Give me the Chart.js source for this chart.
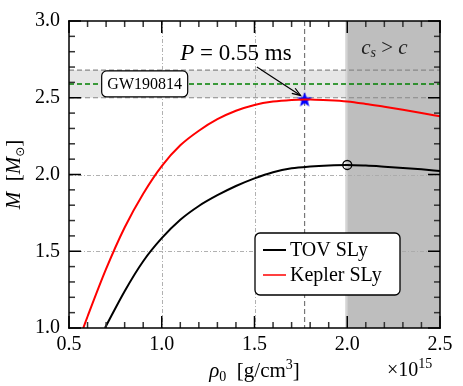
<!DOCTYPE html>
<html>
<head>
<meta charset="utf-8">
<script src="https://cdn.jsdelivr.net/npm/chart.js@4/dist/chart.umd.min.js"></script>
<style>
html,body{margin:0;padding:0;background:#fff;}
canvas{display:block;}
</style>
</head>
<body>
<canvas id="c" width="463" height="386"></canvas>
<script>
// ---- data (rho0 in 1e15 g/cm^3, M in solar masses) ----
const tovRho    = [0.694,0.8,0.9,1.0,1.1,1.2,1.3,1.4,1.5,1.6,1.7,1.8,1.9,2.0,2.1,2.2,2.3,2.4,2.5];
const tovMass   = [1.0,1.24,1.435,1.585,1.705,1.795,1.865,1.925,1.975,2.015,2.04,2.052,2.059,2.062,2.058,2.051,2.043,2.034,2.023];
const keplerRho = [0.577,0.6,0.7,0.8,0.9,1.0,1.1,1.2,1.3,1.4,1.5,1.6,1.7,1.77,1.8,1.9,2.0,2.1,2.2,2.3,2.4,2.5];
const keplerMass= [1.0,1.075,1.385,1.655,1.875,2.055,2.19,2.285,2.36,2.415,2.453,2.475,2.486,2.489,2.488,2.484,2.476,2.46,2.441,2.422,2.401,2.379];
const starPoint = {x:1.77, y:2.489};     // P = 0.55 ms
const tovMaxPoint = {x:2.0, y:2.062};    // TOV maximum
const gwBand = [2.50, 2.68];             // GW190814 secondary mass range
const gwCentral = 2.59;
const causalLimit = 2.0;                 // c_s > c beyond this density
const xTicks = [0.5,1.0,1.5,2.0,2.5];
const yTicks = [1.0,1.5,2.0,2.5,3.0];
const xMinorTicks = [0.6,0.7,0.8,0.9,1.1,1.2,1.3,1.4,1.6,1.7,1.8,1.9,2.1,2.2,2.3,2.4];
const yMinorTicks = [1.1,1.2,1.3,1.4,1.6,1.7,1.8,1.9,2.1,2.2,2.3,2.4,2.6,2.7,2.8,2.9];
const seriesLabels = ['TOV SLy','Kepler SLy'];
const seriesColors = ['#000000','#ff0000'];

const SERIF = '"Liberation Serif","DejaVu Serif",serif';

function makeStar(r, color){
  const c = document.createElement('canvas');
  const s = Math.ceil(r*2+2);
  c.width = s; c.height = s;
  const g = c.getContext('2d');
  g.beginPath();
  for(let i=0;i<10;i++){
    const rad = i%2===0 ? r : r*0.42;
    const a = -Math.PI/2 + i*Math.PI/5;
    const px = s/2 + rad*Math.cos(a), py = s/2 + rad*Math.sin(a) + 0.5;
    if(i===0) g.moveTo(px,py); else g.lineTo(px,py);
  }
  g.closePath();
  g.fillStyle = color; g.fill();
  return c;
}

const toPts = (xs, ys) => xs.map((x,i)=>({x:x, y:ys[i]}));

function roundRect(ctx, x, y, w, h, r){
  ctx.beginPath();
  ctx.moveTo(x+r,y); ctx.lineTo(x+w-r,y); ctx.arcTo(x+w,y,x+w,y+r,r);
  ctx.lineTo(x+w,y+h-r); ctx.arcTo(x+w,y+h,x+w-r,y+h,r);
  ctx.lineTo(x+r,y+h); ctx.arcTo(x,y+h,x,y+h-r,r);
  ctx.lineTo(x,y+r); ctx.arcTo(x,y,x+r,y,r);
  ctx.closePath();
}

// draw a sequence of [text, font, dy] pieces centred on (cx, cy)
function drawRich(ctx, pieces, cx, cy){
  let w = 0;
  pieces.forEach(p=>{ ctx.font = p[1]; w += ctx.measureText(p[0]).width; });
  let x0 = cx - w/2;
  ctx.textAlign = 'left';
  pieces.forEach(p=>{ ctx.font = p[1]; ctx.fillText(p[0], x0, cy + (p[2]||0)); x0 += ctx.measureText(p[0]).width; });
}

// inward ticks and frame drawn as filled rectangles
function drawTicks(chart){
  const ctx = chart.ctx, a = chart.chartArea;
  const sx = chart.scales.x, sy = chart.scales.y;
  ctx.save();
  const W = 1.5;
  const vt = (vals, L, col) => {
    ctx.fillStyle = col;
    vals.forEach(v=>{
      const px = sx.getPixelForValue(v);
      ctx.fillRect(px - W/2, a.bottom - L, W, L);
      ctx.fillRect(px - W/2, a.top, W, L);
    });
  };
  const ht = (vals, L, col) => {
    ctx.fillStyle = col;
    vals.forEach(v=>{
      const py = sy.getPixelForValue(v);
      ctx.fillRect(a.left, py - W/2, L, W);
      ctx.fillRect(a.right - L, py - W/2, L, W);
    });
  };
  vt(xMinorTicks, 6, '#333');
  vt(xTicks, 12, '#000');
  ht(yMinorTicks, 6, '#333');
  ht(yTicks, 12, '#000');
  ctx.fillStyle = '#000';
  ctx.fillRect(a.left-0.75, a.top-0.75, a.right-a.left+1.5, 1.5);
  ctx.fillRect(a.left-0.75, a.bottom-0.75, a.right-a.left+1.5, 1.5);
  ctx.fillRect(a.left-0.75, a.top-0.75, 1.5, a.bottom-a.top+1.5);
  ctx.fillRect(a.right-0.75, a.top-0.75, 1.5, a.bottom-a.top+1.5);
  ctx.restore();
}

const backgroundPlugin = {
  id:'bg',
  beforeDatasetsDraw(chart){
    const {ctx, chartArea:a, scales:{x, y}} = chart;
    ctx.save();
    ctx.beginPath(); ctx.rect(a.left,a.top,a.right-a.left,a.bottom-a.top); ctx.clip();
    const yb1 = y.getPixelForValue(gwBand[0]), yb2 = y.getPixelForValue(gwBand[1]);
    ctx.fillStyle = '#e6e6e6';
    ctx.fillRect(a.left, yb2, a.right-a.left, yb1-yb2);
    const xc = x.getPixelForValue(causalLimit);
    ctx.fillStyle = '#d4d4d4';
    ctx.fillRect(xc-2, a.top, 2, a.bottom-a.top);
    ctx.fillStyle = '#bebebe';
    ctx.fillRect(xc, a.top, a.right-xc, a.bottom-a.top);
    ctx.strokeStyle = '#a8a8a8'; ctx.lineWidth = 0.9;
    ctx.setLineDash([4,2,1,2]);
    [1.0,1.5].forEach(v=>{
      const px = Math.round(x.getPixelForValue(v))+0.5;
      ctx.beginPath(); ctx.moveTo(px,a.top); ctx.lineTo(px,a.bottom); ctx.stroke();
    });
    [1.5,2.0].forEach(v=>{
      const py = Math.round(y.getPixelForValue(v))+0.5;
      ctx.beginPath(); ctx.moveTo(a.left,py); ctx.lineTo(a.right,py); ctx.stroke();
    });
    ctx.strokeStyle = '#888'; ctx.lineWidth = 1.2; ctx.setLineDash([5,3]);
    gwBand.forEach(v=>{
      const py = y.getPixelForValue(v);
      ctx.beginPath(); ctx.moveTo(a.left,py); ctx.lineTo(a.right,py); ctx.stroke();
    });
    ctx.strokeStyle = '#008000'; ctx.lineWidth = 1.4;
    const pg = y.getPixelForValue(gwCentral);
    ctx.beginPath(); ctx.moveTo(a.left,pg); ctx.lineTo(a.right,pg); ctx.stroke();
    ctx.strokeStyle = '#777'; ctx.lineWidth = 1.2; ctx.setLineDash([5,3]);
    const ps = x.getPixelForValue(starPoint.x);
    ctx.beginPath(); ctx.moveTo(ps,a.top); ctx.lineTo(ps,a.bottom); ctx.stroke();
    ctx.restore();
  },
  afterDraw(chart){
    const {ctx, chartArea:a, scales:{x, y}} = chart;
    ctx.save();
    ctx.setLineDash([]);
    ctx.textBaseline = 'middle';
    // GW190814 label
    const gx = x.getPixelForValue(0.908), gy = y.getPixelForValue(gwCentral);
    roundRect(ctx, gx-43, gy-13, 86, 26, 5);
    ctx.fillStyle = '#fff'; ctx.fill();
    ctx.strokeStyle = '#000'; ctx.lineWidth = 1.2; ctx.stroke();
    ctx.fillStyle = '#000'; ctx.font = '16px '+SERIF;
    ctx.textAlign = 'center';
    ctx.fillText('GW190814', gx, gy+1);
    // P = 0.55 ms
    const tx = x.getPixelForValue(1.40), ty = y.getPixelForValue(2.786);
    drawRich(ctx, [['P','italic 23px '+SERIF],[' = 0.55 ms','23px '+SERIF]], tx, ty);
    // arrow
    const ax1 = x.getPixelForValue(1.513), ay1 = y.getPixelForValue(2.70);
    const ax2 = x.getPixelForValue(starPoint.x)-4, ay2 = y.getPixelForValue(starPoint.y)-4;
    ctx.strokeStyle = '#000'; ctx.lineWidth = 1.2;
    ctx.beginPath(); ctx.moveTo(ax1,ay1); ctx.lineTo(ax2,ay2); ctx.stroke();
    const ang = Math.atan2(ay2-ay1, ax2-ax1);
    ctx.beginPath();
    ctx.moveTo(ax2 - 9*Math.cos(ang-0.35), ay2 - 9*Math.sin(ang-0.35));
    ctx.lineTo(ax2, ay2);
    ctx.lineTo(ax2 - 9*Math.cos(ang+0.35), ay2 - 9*Math.sin(ang+0.35));
    ctx.stroke();
    // c_s > c
    const cx = x.getPixelForValue(2.2), cy = y.getPixelForValue(2.82);
    ctx.fillStyle = '#222';
    drawRich(ctx, [['c','italic 21px '+SERIF],['s','italic 14px '+SERIF,5],[' > ','21px '+SERIF],['c','italic 21px '+SERIF]], cx, cy);
    // legend
    const lx = a.right-185, ly = a.bottom-95, lw = 145, lh = 62;
    roundRect(ctx, lx, ly, lw, lh, 5);
    ctx.fillStyle = '#fff'; ctx.fill();
    ctx.strokeStyle = '#000'; ctx.lineWidth = 1.3; ctx.stroke();
    ctx.font = '20px '+SERIF; ctx.textAlign='left';
    seriesLabels.forEach((lab,i)=>{
      const ry = ly + 17 + i*25;
      ctx.strokeStyle = seriesColors[i]; ctx.lineWidth = i===0?2:1.5;
      ctx.beginPath(); ctx.moveTo(lx+8, ry); ctx.lineTo(lx+31, ry); ctx.stroke();
      ctx.fillStyle = '#000';
      ctx.fillText(lab, lx+35, ry+1);
    });
    // axis titles
    ctx.textBaseline = 'alphabetic';
    ctx.fillStyle = '#000';
    drawRich(ctx, [['ρ','italic 21px '+SERIF],['0','14px '+SERIF,4],['  [g/cm','21px '+SERIF],['3','14px '+SERIF,-8],[']','21px '+SERIF]], (a.left+a.right)/2, a.bottom+49);
    ctx.save();
    ctx.translate(a.left-49, (a.top+a.bottom)/2);
    ctx.rotate(-Math.PI/2);
    drawRich(ctx, [['M','italic 21px '+SERIF],['  [','21px '+SERIF],['M','italic 21px '+SERIF],['⊙','12px "DejaVu Sans",sans-serif',4],[']','21px '+SERIF]], 0, 0);
    ctx.restore();
    // x10^15
    ctx.font = '20px '+SERIF; ctx.textAlign='left';
    const ex = a.right - 53, ey = a.bottom + 48;
    const w10 = ctx.measureText('×10').width;
    ctx.fillText('×10', ex, ey);
    ctx.font = '14px '+SERIF;
    ctx.fillText('15', ex + w10, ey - 8);
    ctx.restore();
    drawTicks(chart);
  }
};

new Chart(document.getElementById('c'), {
  type:'line',
  data:{
    datasets:[
      {label:seriesLabels[0], data:toPts(tovRho,tovMass), borderColor:seriesColors[0], borderWidth:2, pointRadius:0, cubicInterpolationMode:'monotone', fill:false},
      {label:seriesLabels[1], data:toPts(keplerRho,keplerMass), borderColor:seriesColors[1], borderWidth:2, pointRadius:0, cubicInterpolationMode:'monotone', fill:false},
      {label:'max', type:'scatter', data:[tovMaxPoint], pointStyle:'circle', pointRadius:4.5, borderColor:'#000', backgroundColor:'rgba(0,0,0,0)', borderWidth:1.3},
      {label:'star', type:'scatter', data:[starPoint], pointStyle:makeStar(8,'#0000ff'), pointRadius:8}
    ]
  },
  options:{
    responsive:false, animation:false,
    layout:{padding:{top:19, right:23, left:0, bottom:0}},
    plugins:{legend:{display:false}, tooltip:{enabled:false}},
    scales:{
      x:{type:'linear', min:0.5, max:2.5,
        afterBuildTicks(s){ s.ticks = xTicks.map(v=>({value:v})); },
        afterFit(s){ s.height = 58; },
        grid:{display:false, drawTicks:false}, border:{display:false},
        ticks:{padding:5, color:'#000', font:{family:SERIF, size:20}, callback:v=>v.toFixed(1), maxRotation:0},
        title:{display:false}
      },
      y:{type:'linear', min:1.0, max:3.0,
        afterBuildTicks(s){ s.ticks = yTicks.map(v=>({value:v})); },
        afterFit(s){ s.width = 69; },
        grid:{display:false, drawTicks:false}, border:{display:false},
        ticks:{padding:9, color:'#000', font:{family:SERIF, size:20}, callback:v=>v.toFixed(1)},
        title:{display:false}
      }
    }
  },
  plugins:[backgroundPlugin]
});
</script>
</body>
</html>
